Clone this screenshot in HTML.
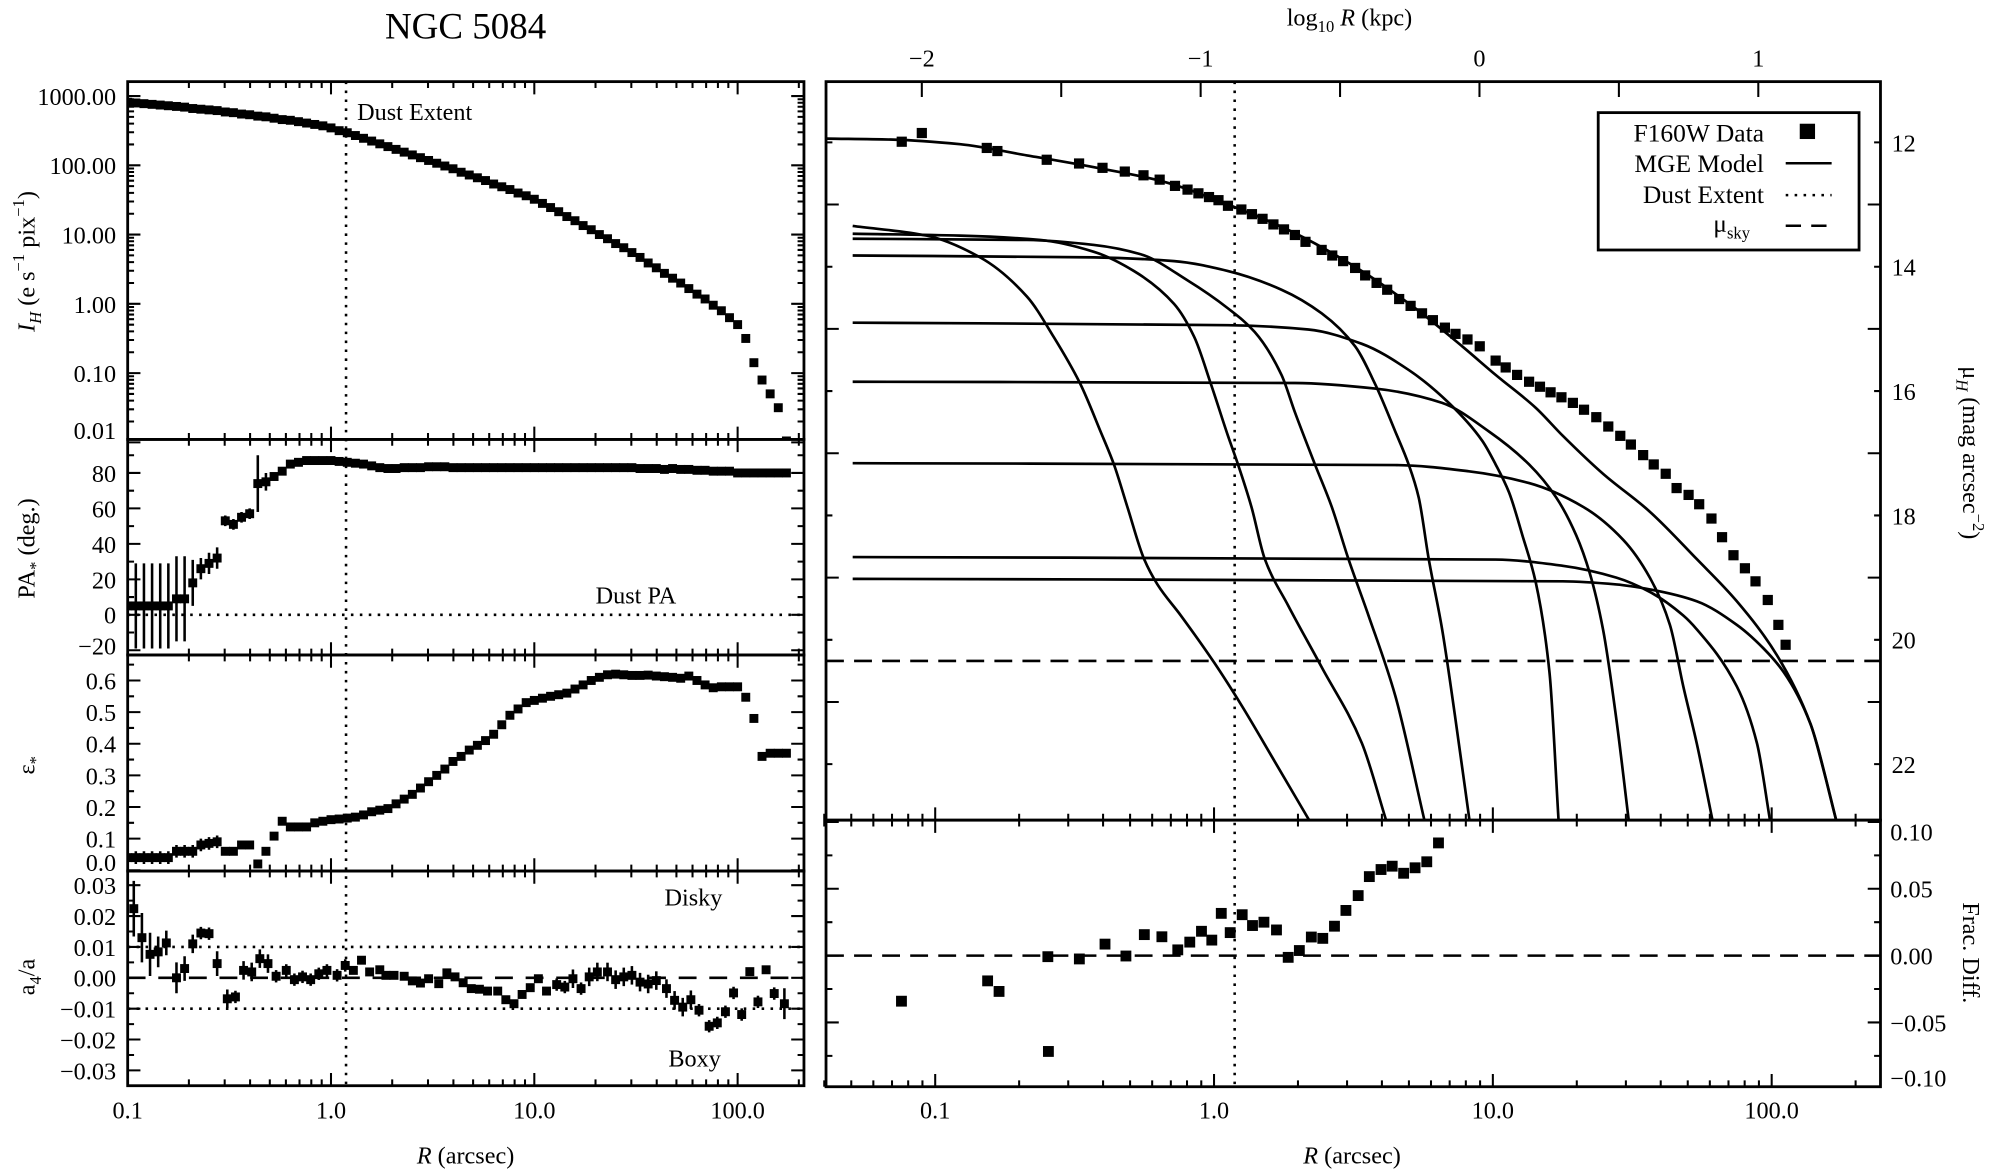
<!DOCTYPE html>
<html><head><meta charset="utf-8"><title>NGC 5084</title>
<style>
html,body{margin:0;padding:0;background:#fff;}
svg, svg text{font-family:"Liberation Serif","Times New Roman","DejaVu Serif",serif;}
text{fill:#000;}
</style></head>
<body>
<svg id="chart" width="2000" height="1169" viewBox="0 0 1568 916.5" xmlns="http://www.w3.org/2000/svg" font-family="Liberation Serif, serif">
<defs>
<clipPath id="cp1"><rect x="100.1" y="64" width="530.2" height="280.5"/></clipPath>
<clipPath id="cp2"><rect x="100.1" y="344.5" width="530.2" height="169"/></clipPath>
<clipPath id="cp3"><rect x="100.1" y="513.5" width="530.2" height="169.4"/></clipPath>
<clipPath id="cp4"><rect x="100.1" y="682.9" width="530.2" height="168.3"/></clipPath>
<clipPath id="cpR1"><rect x="647.6" y="64" width="826.7" height="579"/></clipPath>
<clipPath id="cpR2"><rect x="647.6" y="643" width="826.7" height="209"/></clipPath>
</defs>
<text x="365" y="30" font-size="29" text-anchor="middle" font-family="Liberation Serif, serif">NGC 5084</text>
<text x="1058" y="20" font-size="19" text-anchor="middle" font-family="Liberation Serif, serif">log<tspan font-size="13" dy="5">10</tspan><tspan dy="-5"> </tspan><tspan font-style="italic">R</tspan> (kpc)</text>
<g id="axesText" font-size="19" font-family="Liberation Serif, serif">
<text transform="translate(27,205) rotate(-90)" text-anchor="middle"><tspan font-style="italic">I</tspan><tspan font-style="italic" font-size="13" dy="5">H</tspan><tspan dy="-5"> (e s</tspan><tspan font-size="13" dy="-8">−1</tspan><tspan dy="8"> pix</tspan><tspan font-size="13" dy="-8">−1</tspan><tspan dy="8">)</tspan></text>
<text transform="translate(27,430) rotate(-90)" text-anchor="middle">PA<tspan font-size="13" dy="5">*</tspan><tspan dy="-5"> (deg.)</tspan></text>
<text transform="translate(27,600) rotate(-90)" text-anchor="middle">ε<tspan font-size="13" dy="5">*</tspan></text>
<text transform="translate(27,766) rotate(-90)" text-anchor="middle">a<tspan font-size="13" dy="5">4</tspan><tspan dy="-5">/a</tspan></text>
<text transform="translate(1539,355) rotate(90)" text-anchor="middle">μ<tspan font-style="italic" font-size="13" dy="5">H</tspan><tspan dy="-5"> (mag arcsec</tspan><tspan font-size="13" dy="-8">−2</tspan><tspan dy="8">)</tspan></text>
<text transform="translate(1539,747) rotate(90)" text-anchor="middle">Frac. Diff.</text>
<text x="365" y="912" text-anchor="middle"><tspan font-style="italic">R</tspan> (arcsec)</text>
<text x="1060" y="912" text-anchor="middle"><tspan font-style="italic">R</tspan> (arcsec)</text>
<text x="280" y="94">Dust Extent</text>
<text x="467" y="473">Dust PA</text>
<text x="521" y="710">Disky</text>
<text x="524" y="836">Boxy</text>
</g>
<g id="legend" font-size="20" font-family="Liberation Serif, serif">
<rect x="1253" y="88.3" width="204.5" height="107.7" fill="#fff" stroke="#000" stroke-width="2.2"/>
<text x="1383" y="111" text-anchor="end">F160W Data</text>
<rect x="1411" y="97" width="12" height="12" fill="#000"/>
<text x="1383" y="135" text-anchor="end">MGE Model</text>
<line x1="1400" y1="128" x2="1436" y2="128" stroke="#000" stroke-width="2"/>
<text x="1383" y="159" text-anchor="end">Dust Extent</text>
<line x1="1400" y1="153" x2="1436" y2="153" stroke="#000" stroke-width="2" stroke-dasharray="2 5"/>
<text x="1372" y="182" text-anchor="end">μ<tspan font-size="13" dy="5">sky</tspan></text>
<line x1="1400" y1="177" x2="1436" y2="177" stroke="#000" stroke-width="2" stroke-dasharray="12 8"/>
</g>
</svg>
<script>
// ---------- data ----------
const gridLogR = [-1.00,-0.96,-0.92,-0.88,-0.84,-0.80,-0.76,-0.72,-0.68,-0.64,-0.60,-0.56,-0.52,-0.48,-0.44,-0.40,-0.36,-0.32,-0.28,-0.24,-0.20,-0.16,-0.12,-0.08,-0.04,0.00,0.04,0.08,0.12,0.16,0.20,0.24,0.28,0.32,0.36,0.40,0.44,0.48,0.52,0.56,0.60,0.64,0.68,0.72,0.76,0.80,0.84,0.88,0.92,0.96,1.00,1.04,1.08,1.12,1.16,1.20,1.24,1.28,1.32,1.36,1.40,1.44,1.48,1.52,1.56,1.60,1.64,1.68,1.72,1.76,1.80,1.84,1.88,1.92,1.96,2.00,2.04,2.08,2.12,2.16,2.20,2.24];
const logIntensity = [2.91,2.90,2.89,2.88,2.87,2.86,2.85,2.84,2.82,2.81,2.80,2.79,2.77,2.76,2.74,2.73,2.71,2.70,2.68,2.66,2.65,2.63,2.61,2.59,2.57,2.54,2.50,2.47,2.43,2.39,2.35,2.31,2.27,2.23,2.19,2.15,2.11,2.07,2.03,1.99,1.95,1.90,1.86,1.82,1.78,1.73,1.69,1.65,1.60,1.56,1.51,1.45,1.39,1.33,1.26,1.20,1.13,1.07,1.00,0.94,0.87,0.81,0.74,0.67,0.59,0.52,0.44,0.37,0.30,0.22,0.14,0.07,-0.02,-0.10,-0.20,-0.30,-0.50,-0.85,-1.10,-1.30,-1.50,-1.98];
const paValues = [5,5,5,5,5,5,9,9,18,26,29,32,53,51,55,57,74,75,78,81,85,86,87,87,87,87,86.5,86,85.5,85,84,83,82.5,82.5,83,83,83,83.5,83.5,83.5,83,83,83,83,83,83,83,83,83,83,83,83,83,83,83,83,83,83,83,83,83,83,83,82.5,82.5,82.5,82,82.5,82,82,81.5,81.5,81,81,81,80,80,80,80,80,80,80];
const paErrors = [24,24,24,24,24,24,24,24,13,6,6,6,3,3,3,3,16,5,2,2,1,1,1,1,1,1,1,1,1,1,1,1,1,1,1,1,1,1,1,1,1,1,1,1,1,1,1,1,1,1,1,1,1,1,1,1,1,1,1,1,1,1,1,1,1,1,1,1,1,1,1,1,1,1,1,1,1,1,1,1,1,1];
const epsValues = [0.04,0.04,0.04,0.04,0.04,0.04,0.06,0.06,0.06,0.08,0.085,0.09,0.06,0.06,0.08,0.08,0.02,0.06,0.108,0.155,0.137,0.137,0.137,0.15,0.155,0.16,0.162,0.165,0.168,0.175,0.185,0.19,0.195,0.21,0.225,0.24,0.26,0.28,0.30,0.32,0.344,0.36,0.38,0.395,0.41,0.43,0.46,0.49,0.51,0.53,0.537,0.544,0.55,0.555,0.56,0.573,0.586,0.60,0.61,0.618,0.62,0.618,0.616,0.616,0.617,0.614,0.612,0.61,0.607,0.614,0.60,0.586,0.577,0.58,0.58,0.58,0.547,0.48,0.36,0.37,0.37,0.37];
const epsErrors = [0.02,0.02,0.02,0.02,0.02,0.02,0.02,0.02,0.02,0.02,0.02,0.02,0.01,0.01,0.01,0.01,0.01,0.01,0,0,0,0,0,0,0,0,0,0,0,0,0,0,0,0,0,0,0,0,0,0,0,0,0,0,0,0,0,0,0,0,0,0,0,0,0,0,0,0,0,0,0,0,0,0,0,0,0,0,0,0,0,0,0,0,0,0,0,0,0,0,0,0];
const a4LogR = [-0.97,-0.93,-0.89,-0.85,-0.81,-0.76,-0.72,-0.68,-0.64,-0.60,-0.56,-0.51,-0.47,-0.43,-0.39,-0.35,-0.31,-0.27,-0.22,-0.18,-0.14,-0.10,-0.06,-0.02,0.03,0.07,0.11,0.15,0.19,0.24,0.27,0.31,0.36,0.40,0.44,0.48,0.53,0.57,0.61,0.65,0.69,0.73,0.77,0.82,0.86,0.90,0.94,0.98,1.02,1.06,1.11,1.15,1.19,1.23,1.27,1.31,1.36,1.40,1.44,1.48,1.52,1.56,1.60,1.65,1.69,1.73,1.77,1.81,1.86,1.90,1.94,1.98,2.02,2.06,2.10,2.14,2.18,2.23];
const a4Values = [0.0224,0.013,0.0076,0.0084,0.0113,0,0.003,0.011,0.0145,0.0143,0.0046,-0.0068,-0.0062,0.0024,0.0019,0.0062,0.0046,0.0005,0.0024,-0.0006,0.0003,-0.0006,0.0013,0.0024,0.0008,0.004,0.0024,0.0057,0.0019,0.0026,0.0008,0.0008,0.0005,-0.001,-0.0017,-0.0003,-0.0019,0.0016,0.0003,-0.0016,-0.0035,-0.0037,-0.0043,-0.0043,-0.0071,-0.0084,-0.0054,-0.0032,-0.0003,-0.0043,-0.0022,-0.003,-0.0003,-0.0035,0.0003,0.0019,0.0019,-0.0006,0.0003,0.0008,-0.0014,-0.002,-0.0009,-0.0035,-0.0073,-0.0095,-0.0071,-0.0105,-0.0157,-0.0146,-0.011,-0.0049,-0.0119,0.002,-0.0078,0.0026,-0.0051,-0.0084];
const a4Errors = [0.009,0.008,0.007,0.005,0.004,0.005,0.004,0.003,0.002,0.002,0.004,0.003,0.002,0.003,0.003,0.003,0.003,0.002,0.002,0.002,0.002,0.002,0.002,0.002,0.002,0.002,0.001,0.001,0.001,0.001,0.001,0.001,0.001,0.001,0.001,0.001,0.001,0.001,0.001,0.001,0.001,0.001,0.001,0.001,0.001,0.001,0.001,0.001,0.001,0.001,0.002,0.002,0.003,0.002,0.003,0.003,0.003,0.003,0.003,0.003,0.003,0.003,0.003,0.003,0.003,0.003,0.003,0.002,0.002,0.002,0.002,0.002,0.002,0.001,0.002,0.001,0.002,0.005];
const dataLogR = [-1.12,-1.048,-0.815,-0.777,-0.60,-0.484,-0.40,-0.32,-0.253,-0.195,-0.14,-0.095,-0.056,-0.018,0.016,0.05,0.098,0.136,0.174,0.213,0.251,0.29,0.328,0.386,0.424,0.463,0.506,0.542,0.583,0.621,0.664,0.705,0.746,0.785,0.828,0.866,0.909,0.953,1.01,1.046,1.087,1.13,1.169,1.207,1.246,1.287,1.327,1.371,1.414,1.457,1.495,1.539,1.577,1.62,1.659,1.702,1.74,1.784,1.822,1.863,1.904,1.942,1.986,2.024,2.05];
const dataMu = [11.99,11.85,12.09,12.14,12.28,12.34,12.41,12.47,12.53,12.60,12.70,12.76,12.82,12.88,12.93,13.02,13.08,13.155,13.23,13.32,13.40,13.49,13.60,13.73,13.82,13.91,14.02,14.14,14.26,14.37,14.52,14.63,14.75,14.86,14.98,15.08,15.17,15.28,15.51,15.62,15.74,15.85,15.93,16.02,16.10,16.19,16.30,16.42,16.57,16.72,16.86,17.03,17.18,17.33,17.56,17.67,17.82,18.05,18.35,18.64,18.85,19.06,19.36,19.76,20.08];
const totalLogR = [-1.392,-1.151,-0.911,-0.671,-0.431,-0.191,0.05,0.29,0.53,0.722,0.89,1.01,1.154,1.251,1.395,1.563,1.731,1.875,2.019,2.139,2.233];
const totalMu = [11.94,11.956,12.03,12.21,12.40,12.62,13.00,13.46,14.07,14.67,15.28,15.74,16.27,16.72,17.33,17.94,18.70,19.38,20.25,21.35,22.93];
const gaussA_r = [-1.296,-1.031,-0.839,-0.671,-0.575,-0.479,-0.407,-0.359,-0.311,-0.251,-0.203,-0.119,0.001,0.098,0.218,0.345];
const gaussA_mu = [13.345,13.50,13.85,14.48,15.13,15.89,16.65,17.18,17.86,18.70,19.11,19.61,20.37,21.05,21.96,22.93];
const gaussB_r = [-1.296,-0.911,-0.623,-0.431,-0.287,-0.143,-0.071,-0.011,0.05,0.086,0.134,0.182,0.266,0.386,0.53,0.619];
const gaussB_mu = [13.47,13.50,13.57,13.76,14.07,14.60,15.13,15.89,16.72,17.18,17.86,18.70,19.45,20.44,21.66,22.93];
const gaussC_r = [-1.296,-0.671,-0.431,-0.263,-0.095,0.05,0.146,0.242,0.29,0.362,0.422,0.482,0.554,0.65,0.756];
const gaussC_mu = [13.55,13.57,13.65,13.80,14.22,14.67,15.05,15.74,16.34,17.18,17.86,18.70,19.61,20.90,22.93];
const gaussD_r = [-1.296,-0.431,-0.143,0.05,0.242,0.386,0.506,0.578,0.65,0.698,0.734,0.77,0.818,0.866,0.917];
const gaussD_mu = [13.82,13.85,13.91,14.07,14.37,14.75,15.28,15.89,16.65,17.18,17.71,18.70,19.83,21.28,22.93];
const gaussE_r = [-1.296,0.05,0.338,0.53,0.698,0.842,0.962,1.01,1.058,1.106,1.154,1.203,1.236];
const gaussE_mu = [14.90,14.94,15.01,15.24,15.66,16.19,16.80,17.18,17.63,18.32,19.08,20.52,22.93];
const gaussF_r = [-1.296,0.29,0.578,0.818,0.986,1.13,1.227,1.299,1.347,1.395,1.443,1.488];
const gaussF_mu = [15.85,15.87,15.96,16.19,16.65,17.18,17.71,18.32,18.92,19.83,21.28,22.93];
const gaussG_r = [-1.296,0.65,0.914,1.13,1.323,1.467,1.563,1.635,1.683,1.731,1.789];
const gaussG_mu = [17.16,17.19,17.29,17.48,17.86,18.39,19.00,19.76,20.75,21.66,22.93];
const gaussH_r = [-1.296,1.01,1.251,1.443,1.563,1.683,1.731,1.875,1.947,1.995];
const gaussH_mu = [18.67,18.71,18.81,19.00,19.23,19.61,19.83,20.75,21.66,22.93];
const gaussI_r = [-1.296,1.251,1.443,1.563,1.731,1.875,1.971,2.043,2.139,2.187,2.233];
const gaussI_mu = [19.02,19.06,19.11,19.19,19.38,19.76,20.14,20.52,21.35,22.11,22.93];
const residLogR = [-1.121,-0.812,-0.771,-0.596,-0.594,-0.483,-0.391,-0.316,-0.25,-0.187,-0.13,-0.087,-0.045,-0.008,0.026,0.058,0.101,0.138,0.179,0.224,0.266,0.306,0.349,0.39,0.432,0.473,0.517,0.557,0.599,0.639,0.68,0.721,0.763,0.805];
const residValues = [-0.0341,-0.0189,-0.0268,-0.0008,-0.0717,-0.0025,0.0086,-0.0003,0.0157,0.0141,0.0043,0.0101,0.0182,0.0116,0.0316,0.0172,0.0306,0.0225,0.025,0.0192,-0.0013,0.0038,0.0139,0.0129,0.022,0.0338,0.0449,0.0591,0.0644,0.0669,0.0616,0.0657,0.0702,0.0843];
const dustLogR = 0.074;
const skyMu = 20.34;
const kpcOffset = -0.952;
const leftXLabels = ['0.1','1.0','10.0','100.0'];
const rightXLabels = ['0.1','1.0','10.0','100.0'];
const kpcLabels = ['−2','−1','0','1'];
const intensityLabels = ['1000.00','100.00','10.00','1.00','0.10','0.01'];
const paLabels = ['80','60','40','20','0','−20'];
const epsLabels = ['0.6','0.5','0.4','0.3','0.2','0.1','0.0'];
const a4Labels = ['0.03','0.02','0.01','0.00','−0.01','−0.02','−0.03'];
const muLabels = ['12','14','16','18','20','22'];
const fracLabels = ['0.10','0.05','0.00','−0.05','−0.10'];

// ---------- scales ----------
const L = {x0:100.1, x1:630.3};
const R = {x0:647.6, x1:1474.3};
const lx = v => 100.1 + (v + 1) * 159.4;
const rx = v => 951.8 + v * 218.6;
const yI = v => 75.3 - (v - 3) * 54.3;
const yPA = v => 482 - v * 1.39;
const yE = v => 533.5 + (0.6 - v) * 248;
const yA = v => 766.6 - v * 2420;
const yMu = v => 111.6 + (v - 12) * 48.75;
const yF = v => 749.2 - v * 1048;
const P = {p1:[64,344.5], p2:[344.5,513.5], p3:[513.5,682.9], p4:[682.9,851.2]};

const svg = document.getElementById('chart');
const NS = 'http://www.w3.org/2000/svg';
function mk(tag, attrs, parent) {
  const e = document.createElementNS(NS, tag);
  for (const k in attrs) e.setAttribute(k, attrs[k]);
  (parent || svg).appendChild(e);
  return e;
}
function grp(clip) {
  return mk('g', clip ? {'clip-path': 'url(#' + clip + ')'} : {});
}

// ---------- frames ----------
const frames = [P.p1, P.p2, P.p3, P.p4];
const frameNames = ['intensity-panel-frame','pa-panel-frame','ellipticity-panel-frame','a4-panel-frame'];
frames.forEach((f, i) => {
  const r = mk('rect', {x: L.x0, y: f[0], width: L.x1 - L.x0, height: f[1] - f[0], fill: 'none', stroke: '#000', 'stroke-width': 2.2});
  
  
});
const rf1 = mk('rect', {x: R.x0, y: 64, width: R.x1 - R.x0, height: 579, fill: 'none', stroke: '#000', 'stroke-width': 2.2});


const rf2 = mk('rect', {x: R.x0, y: 643, width: R.x1 - R.x0, height: 209, fill: 'none', stroke: '#000', 'stroke-width': 2.2});



// ---------- ticks ----------
let tickD = '';
function logXTicks(xf, lo, hi, yTop, yBot) {
  for (let e = -2; e <= 2; e++) for (let m = 1; m <= 9; m++) {
    const v = Math.log10(m * Math.pow(10, e));
    if (v < lo || v > hi) continue;
    const x = xf(v), len = m === 1 ? 10 : 5;
    tickD += `M${x},${yTop}v${len}M${x},${yBot}v${-len}`;
  }
}
function linYTicks(yf, from, to, step, majEvery, x0, x1, yMin, yMax) {
  const n = Math.round((to - from) / step);
  for (let i = 0; i <= n; i++) {
    const v = from + i * step, y = yf(v);
    if (y < yMin || y > yMax) continue;
    const len = (i % majEvery === 0) ? 10 : 5;
    tickD += `M${x0},${y}h${len}M${x1},${y}h${-len}`;
  }
}
function logYTicks(yf, lo, hi, x0, x1) {
  for (let e = -3; e <= 3; e++) for (let m = 1; m <= 9; m++) {
    const v = Math.log10(m * Math.pow(10, e));
    if (v < lo || v > hi) continue;
    const y = yf(v), len = m === 1 ? 10 : 5;
    tickD += `M${x0},${y}h${len}M${x1},${y}h${-len}`;
  }
}
frames.forEach(p => logXTicks(lx, -1, 2.32, p[0], p[1]));
logYTicks(yI, -2, 3.2, L.x0, L.x1);
linYTicks(yPA, -20, 100, 10, 2, L.x0, L.x1, 344.5, 513.5);
linYTicks(yE, 0, 0.65, 0.05, 2, L.x0, L.x1, 513.5, 682.9);
linYTicks(yA, -0.03, 0.03, 0.005, 2, L.x0, L.x1, 682.9, 851.2);
logXTicks(rx, -1.4, 2.38, 643, 852);
for (let k = -2; k <= 1.5; k += 0.5) {
  const x = rx(k - kpcOffset);
  if (x < R.x0 || x > R.x1) continue;
  tickD += `M${x},64v12`;
}
for (let e = -2; e <= 2; e++) for (let m = 1; m <= 9; m++) {
  const v = Math.log10(m * Math.pow(10, e));
  if (v < -1.4 || v > 2.38) continue;
  tickD += `M${rx(v)},643v${m === 1 ? -10 : -5}`;
}
linYTicks(yMu, 11, 22, 1, 2, R.x0, R.x1, 64, 643);
linYTicks(yF, -0.1, 0.1, 0.025, 2, R.x0, R.x1, 643, 852);
const ticks = mk('path', {d: tickD, stroke: '#000', 'stroke-width': 1.6, fill: 'none'});



// ---------- tick labels ----------
const lab = mk('g', {'font-size': 19, 'font-family': 'Liberation Serif, serif'});


function txt(s, x, y, anchor, name) {
  const t = mk('text', {x: x, y: y, 'text-anchor': anchor}, lab);
  t.textContent = s;
  
  
  return t;
}
leftXLabels.forEach((s, i) => txt(s, lx(i - 1), 877, 'middle', 'x-tick-label-left'));
rightXLabels.forEach((s, i) => txt(s, rx(i - 1), 877, 'middle', 'x-tick-label-right'));
kpcLabels.forEach((s, i) => txt(s, rx(i - 2 - kpcOffset), 52, 'middle', 'kpc-tick-label'));
intensityLabels.forEach((s, i) => txt(s, 91, Math.min(yI(3 - i), 337) + 7, 'end', 'intensity-tick-label'));
paLabels.forEach((s, i) => txt(s, 91, Math.min(yPA(80 - 20 * i), 506) + 7, 'end', 'pa-tick-label'));
epsLabels.forEach((s, i) => txt(s, 91, Math.min(yE(0.6 - 0.1 * i), 676) + 7, 'end', 'ellipticity-tick-label'));
a4Labels.forEach((s, i) => txt(s, 91, yA(0.03 - 0.01 * i) + 7, 'end', 'a4-tick-label'));
muLabels.forEach((s, i) => txt(s, 1483, yMu(12 + 2 * i) + 7, 'start', 'mu-tick-label'));
fracLabels.forEach((s, i) => txt(s, 1482, Math.max(Math.min(yF(0.1 - 0.05 * i), 845), 652) + 7, 'start', 'frac-diff-tick-label'));

// ---------- reference lines ----------
function line(x1, y1, x2, y2, dash, name, w) {
  const l = mk('line', {x1: x1, y1: y1, x2: x2, y2: y2, stroke: '#000', 'stroke-width': w || 2, 'stroke-dasharray': dash});
  
  
}
line(lx(dustLogR), 64, lx(dustLogR), 851.2, '2 5', 'dust-extent-line-left');
line(rx(dustLogR), 64, rx(dustLogR), 852, '2 5', 'dust-extent-line-right');
line(L.x0, yPA(0), L.x1, yPA(0), '2 5', 'dust-pa-line');
line(L.x0, yA(0.01), L.x1, yA(0.01), '2 5', 'disky-threshold-line');
line(L.x0, yA(-0.01), L.x1, yA(-0.01), '2 5', 'boxy-threshold-line');
line(L.x0, yA(0), L.x1, yA(0), '14 10', 'a4-zero-line');
line(R.x0, yMu(skyMu), R.x1, yMu(skyMu), '14 8', 'sky-level-line');
line(R.x0, yF(0), R.x1, yF(0), '14 8', 'residual-zero-line');

// ---------- markers ----------
function sq(g, x, y, s, name) {
  const r = mk('rect', {x: x - s / 2, y: y - s / 2, width: s, height: s, fill: '#000'}, g);
  
  
}
function ebar(g, x, y1, y2, name) {
  const l = mk('line', {x1: x, y1: y1, x2: x, y2: y2, stroke: '#000', 'stroke-width': 2}, g);
  
  
}
const g1 = grp('cp1');


gridLogR.forEach((r, i) => sq(g1, lx(r), yI(logIntensity[i]), 7, 'intensity-point'));
const g2 = grp('cp2');


gridLogR.forEach((r, i) => {
  ebar(g2, lx(r), yPA(paValues[i] - paErrors[i]), yPA(paValues[i] + paErrors[i]), 'pa-error-bar');
  sq(g2, lx(r), yPA(paValues[i]), 7, 'pa-point');
});
const g3 = grp('cp3');


gridLogR.forEach((r, i) => {
  if (epsErrors[i] > 0) ebar(g3, lx(r), yE(epsValues[i] - epsErrors[i]), yE(epsValues[i] + epsErrors[i]), 'ellipticity-error-bar');
  sq(g3, lx(r), yE(epsValues[i]), 7, 'ellipticity-point');
});
const g4 = grp('cp4');


a4LogR.forEach((r, i) => {
  ebar(g4, lx(r), yA(a4Values[i] - a4Errors[i]), yA(a4Values[i] + a4Errors[i]), 'a4-error-bar');
  sq(g4, lx(r), yA(a4Values[i]), 7, 'a4-point');
});

// ---------- MGE curves (monotone cubic in pixel space) ----------
function smoothPath(xs, ys) {
  const X = xs.map(rx), Y = ys.map(yMu), n = X.length;
  const d = [], m = new Array(n);
  for (let i = 0; i < n - 1; i++) d.push((Y[i + 1] - Y[i]) / (X[i + 1] - X[i]));
  m[0] = d[0]; m[n - 1] = d[n - 2];
  for (let i = 1; i < n - 1; i++) {
    if (d[i - 1] * d[i] <= 0) m[i] = 0;
    else {
      const w1 = 2 * (X[i + 1] - X[i]) + (X[i] - X[i - 1]);
      const w2 = (X[i + 1] - X[i]) + 2 * (X[i] - X[i - 1]);
      m[i] = (w1 + w2) / (w1 / d[i - 1] + w2 / d[i]);
    }
  }
  let s = `M${X[0]},${Y[0]}`;
  for (let i = 0; i < n - 1; i++) {
    const h = (X[i + 1] - X[i]) / 3;
    s += `C${X[i] + h},${Y[i] + m[i] * h} ${X[i + 1] - h},${Y[i + 1] - m[i + 1] * h} ${X[i + 1]},${Y[i + 1]}`;
  }
  return s;
}
const gR = grp('cpR1');


const comps = [[gaussA_r,gaussA_mu],[gaussB_r,gaussB_mu],[gaussC_r,gaussC_mu],[gaussD_r,gaussD_mu],[gaussE_r,gaussE_mu],[gaussF_r,gaussF_mu],[gaussG_r,gaussG_mu],[gaussH_r,gaussH_mu],[gaussI_r,gaussI_mu]];
comps.forEach(c => {
  const p = mk('path', {d: smoothPath(c[0], c[1]), fill: 'none', stroke: '#000', 'stroke-width': 2.1}, gR);
  
  
});
const tot = mk('path', {d: smoothPath(totalLogR, totalMu), fill: 'none', stroke: '#000', 'stroke-width': 2.1}, gR);


dataLogR.forEach((r, i) => sq(gR, rx(r), yMu(dataMu[i]), 8, 'f160w-data-point'));

const gF = grp('cpR2');


residLogR.forEach((r, i) => sq(gF, rx(r), yF(residValues[i]), 8.5, 'residual-point'));
</script>
</body></html>
